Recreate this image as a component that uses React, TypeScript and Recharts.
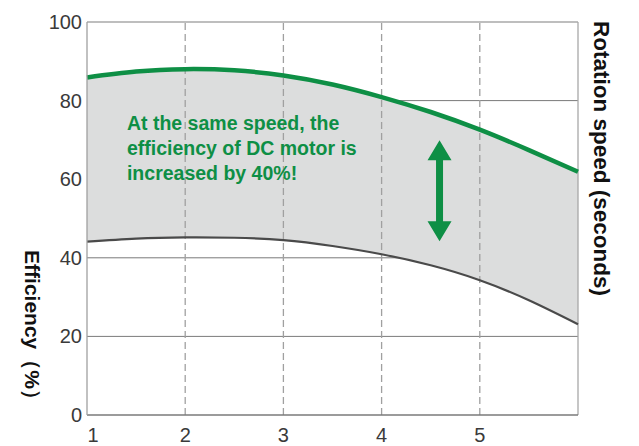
import React from 'react';
import {
  ComposedChart,
  Area,
  Line,
  XAxis,
  YAxis,
  CartesianGrid,
  ReferenceLine,
  ReferenceDot,
  Customized,
} from 'recharts';

const speeds = [1, 1.5, 2, 2.5, 3, 3.5, 4, 4.5, 5, 5.5, 6];
const dcEfficiency = [85.9, 87.4, 88.0, 87.7, 86.4, 84.1, 80.9, 77.1, 72.6, 67.4, 61.9];
const acEfficiency = [44.1, 44.9, 45.2, 45.1, 44.5, 43.0, 40.9, 38.1, 34.3, 29.2, 23.1];

const xTicks = [1, 2, 3, 4, 5];
const yTicks = [0, 20, 40, 60, 80, 100];
const gridY = [20, 40, 60, 80];
const dashedX = [2, 3, 4, 5];

const annotationLines = [
  'At the same speed, the',
  'efficiency of DC motor is',
  'increased by 40%!',
];
const annotationX = 1.407;
const annotationY = 72.46;
const arrowX = 4.59;
const arrowTop = 69.9;
const arrowBottom = 44.2;

const yLabel = 'Efficiency（%）';
const rightLabel = 'Rotation speed (seconds)';

const data = speeds.map((s, i) => ({
  speed: s,
  dc: dcEfficiency[i],
  ac: acEfficiency[i],
  band: [acEfficiency[i], dcEfficiency[i]],
}));

const GREEN = '#0e8f45';
const FONT = '"Liberation Sans", Arial, Helvetica, sans-serif';

const YTick = (props: any) => {
  const { x, y, payload } = props;
  return (
    <text
      x={x}
      y={y}
      textAnchor="end"
      dominantBaseline="central"
      fontFamily={FONT}
      fontSize={20}
      fill="#3a3a3a"
    >
      {payload.value}
    </text>
  );
};

const XTick = (props: any) => {
  const { x, y, payload, index } = props;
  return (
    <text
      x={x + (index === 0 ? 6 : 0)}
      y={y}
      dy={19}
      textAnchor="middle"
      fontFamily={FONT}
      fontSize={20}
      fill="#3a3a3a"
    >
      {payload.value}
    </text>
  );
};

const ArrowShape = (props: any) => {
  const { x1, y1, x2, y2 } = props;
  const cx = (x1 + x2) / 2;
  const top = Math.min(y1, y2);
  const bot = Math.max(y1, y2);
  const hh = 20;
  const hw = 12;
  const sw = 3.5;
  const pts = [
    [cx, top],
    [cx + hw, top + hh],
    [cx + sw, top + hh],
    [cx + sw, bot - hh],
    [cx + hw, bot - hh],
    [cx, bot],
    [cx - hw, bot - hh],
    [cx - sw, bot - hh],
    [cx - sw, top + hh],
    [cx - hw, top + hh],
  ]
    .map((p) => p.join(','))
    .join(' ');
  return <polygon points={pts} fill={GREEN} />;
};

const AnnotationText = (props: any) => {
  const { cx, cy } = props;
  return (
    <g>
      {annotationLines.map((t, i) => (
        <text
          key={i}
          x={cx}
          y={cy + i * 25}
          fontFamily={FONT}
          fontWeight="bold"
          fontSize={19.5}
          fill={GREEN}
        >
          {t}
        </text>
      ))}
    </g>
  );
};

const AxisTitles = () => (
  <g>
    <text
      transform="translate(25,330) rotate(90)"
      textAnchor="middle"
      fontFamily={FONT}
      fontWeight="bold"
      fontSize={21}
      fill="#111"
    >
      {yLabel}
    </text>
    <text
      transform="translate(594,158.5) rotate(90)"
      textAnchor="middle"
      fontFamily={FONT}
      fontWeight="bold"
      fontSize={22.5}
      fill="#111"
    >
      {rightLabel}
    </text>
  </g>
);

export default function App() {
  return (
    <div style={{ position: 'absolute', left: 0, top: 0, width: 639, height: 446 }}>
      <ComposedChart
        width={639}
        height={446}
        data={data}
        margin={{ top: 22, right: 61, bottom: 0, left: 0 }}
      >
        <Area
          type="natural"
          dataKey="band"
          fill="#dcdddd"
          fillOpacity={1}
          stroke="none"
          isAnimationActive={false}
        />
        <CartesianGrid
          vertical={false}
          horizontalValues={gridY}
          stroke="#7a7a7a"
          strokeWidth={1}
        />
        {dashedX.map((v) => (
          <ReferenceLine
            key={v}
            x={v}
            stroke="#a0a0a0"
            strokeWidth={1.3}
            strokeDasharray="7 4"
          />
        ))}
        <ReferenceLine y={100} stroke="#a8a8a8" strokeWidth={1.3} />
        <ReferenceLine x={6} stroke="#a8a8a8" strokeWidth={1.3} />
        <XAxis
          dataKey="speed"
          type="number"
          domain={[1, 6]}
          ticks={xTicks}
          height={31}
          axisLine={{ stroke: '#7a7a7a', strokeWidth: 1.3 }}
          tickLine={false}
          tickSize={8}
          tickMargin={0}
          tick={<XTick />}
          interval={0}
        />
        <YAxis
          type="number"
          domain={[0, 100]}
          ticks={yTicks}
          width={87}
          axisLine={{ stroke: '#a0a0a0', strokeWidth: 1.3 }}
          tickLine={false}
          tickSize={5}
          tickMargin={0}
          tick={<YTick />}
          interval={0}
        />
        <Line
          type="natural"
          dataKey="ac"
          stroke="#4a4a4a"
          strokeWidth={2.2}
          dot={false}
          isAnimationActive={false}
        />
        <Line
          type="natural"
          dataKey="dc"
          stroke={GREEN}
          strokeWidth={4.5}
          dot={false}
          isAnimationActive={false}
        />
        <ReferenceLine
          segment={[
            { x: arrowX, y: arrowTop },
            { x: arrowX, y: arrowBottom },
          ]}
          shape={<ArrowShape />}
        />
        <ReferenceDot
          x={annotationX}
          y={annotationY}
          r={0}
          shape={<AnnotationText />}
        />
        <Customized component={AxisTitles} />
      </ComposedChart>
    </div>
  );
}
